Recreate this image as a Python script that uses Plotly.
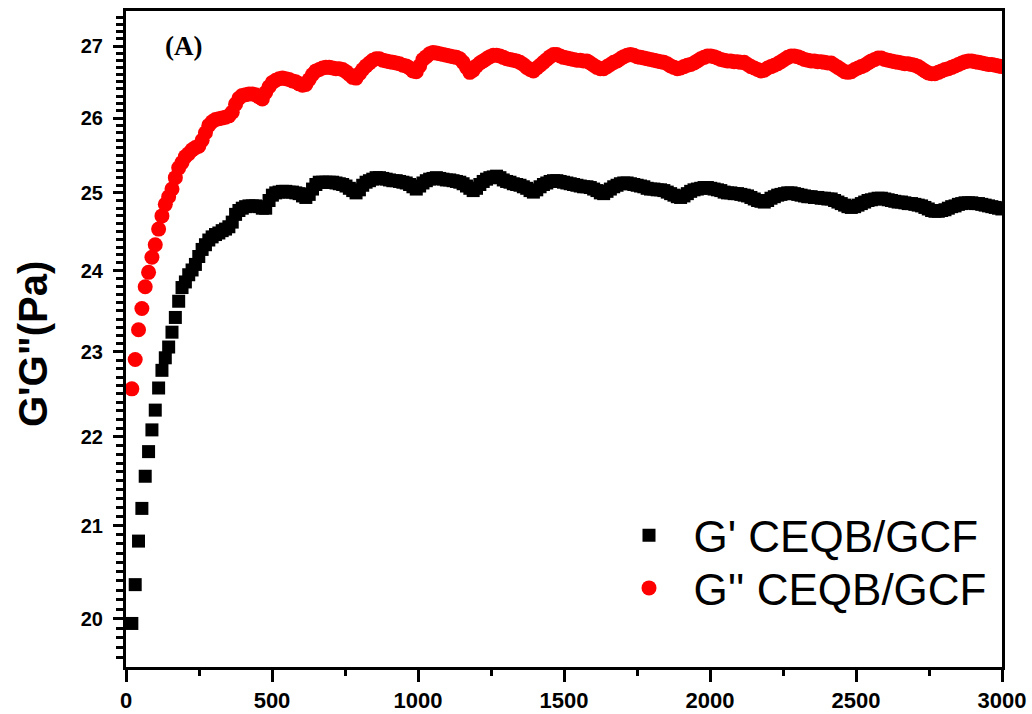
import plotly.graph_objects as go
import math

# ---------------- data ----------------
n_points = 261
time_step = 11.46
time_s = [round(20 + time_step * i, 1) for i in range(n_points)]

g_storage = [
    19.95, 20.36, 20.83, 21.19, 21.55, 21.83, 22.08, 22.31, 22.57, 22.78,
    22.93, 23.06, 23.24, 23.42, 23.62, 23.79, 23.86, 23.95, 24.01, 24.08,
    24.18, 24.27, 24.33, 24.39, 24.43, 24.46, 24.48, 24.51, 24.53, 24.56,
    24.62, 24.72, 24.77, 24.80, 24.82, 24.83, 24.83, 24.83, 24.82, 24.80,
    24.80, 24.90, 24.97, 25.00, 25.01, 25.02, 25.02, 25.01, 25.01, 25.00,
    24.99, 24.96, 24.94, 24.98, 25.05, 25.11, 25.14, 25.14, 25.14, 25.14,
    25.14, 25.13, 25.12, 25.11, 25.09, 25.06, 25.03, 25.00, 25.04, 25.10,
    25.14, 25.16, 25.18, 25.20, 25.20, 25.19, 25.18, 25.17, 25.16, 25.16,
    25.15, 25.14, 25.13, 25.11, 25.08, 25.05, 25.09, 25.13, 25.16, 25.18,
    25.19, 25.20, 25.19, 25.18, 25.17, 25.17, 25.16, 25.15, 25.14, 25.12,
    25.09, 25.06, 25.03, 25.06, 25.11, 25.15, 25.18, 25.20, 25.21, 25.22,
    25.20, 25.17, 25.15, 25.14, 25.12, 25.11, 25.10, 25.08, 25.06, 25.03,
    25.01, 25.04, 25.08, 25.11, 25.13, 25.15, 25.16, 25.16, 25.15, 25.14,
    25.13, 25.12, 25.11, 25.10, 25.09, 25.08, 25.08, 25.07, 25.05, 25.03,
    25.00, 24.99, 25.02, 25.05, 25.08, 25.10, 25.12, 25.13, 25.13, 25.12,
    25.11, 25.10, 25.09, 25.08, 25.06, 25.05, 25.05, 25.04, 25.04, 25.03,
    25.01, 24.99, 24.97, 24.95, 24.94, 24.96, 24.99, 25.02, 25.04, 25.05,
    25.06, 25.07, 25.07, 25.06, 25.05, 25.04, 25.03, 25.01, 25.00, 25.00,
    24.99, 24.99, 24.98, 24.97, 24.96, 24.94, 24.92, 24.90, 24.89, 24.88,
    24.90, 24.93, 24.95, 24.97, 24.98, 24.99, 25.00, 25.00, 24.99, 24.98,
    24.97, 24.96, 24.95, 24.95, 24.94, 24.94, 24.93, 24.93, 24.92, 24.92,
    24.90, 24.88, 24.86, 24.84, 24.82, 24.81, 24.82, 24.84, 24.86, 24.88,
    24.90, 24.91, 24.92, 24.93, 24.93, 24.92, 24.91, 24.90, 24.89, 24.88,
    24.88, 24.87, 24.86, 24.86, 24.85, 24.84, 24.83, 24.81, 24.79, 24.77,
    24.76, 24.76, 24.77, 24.78, 24.80, 24.82, 24.83, 24.85, 24.86, 24.87,
    24.87, 24.87, 24.86, 24.86, 24.85, 24.84, 24.83, 24.82, 24.81, 24.80,
    24.79,
]

g_loss = [
    22.56, 22.91, 23.27, 23.53, 23.80, 23.98, 24.17, 24.33, 24.53, 24.70,
    24.85, 24.95, 25.05, 25.20, 25.33, 25.40, 25.48, 25.52, 25.57, 25.60,
    25.62, 25.70, 25.80, 25.90, 25.95, 25.98, 25.99, 26.00, 26.01, 26.03,
    26.08, 26.19, 26.27, 26.31, 26.32, 26.33, 26.33, 26.32, 26.29, 26.26,
    26.35, 26.43, 26.49, 26.52, 26.54, 26.55, 26.54, 26.53, 26.51, 26.50,
    26.47, 26.45, 26.46, 26.53, 26.60, 26.65, 26.67, 26.69, 26.70, 26.70,
    26.69, 26.68, 26.68, 26.67, 26.64, 26.60, 26.56, 26.55, 26.61, 26.67,
    26.72, 26.76, 26.80, 26.82, 26.82, 26.80, 26.79, 26.78, 26.77, 26.76,
    26.75, 26.73, 26.72, 26.69, 26.65, 26.64, 26.72, 26.81, 26.85, 26.89,
    26.91, 26.90, 26.89, 26.88, 26.87, 26.86, 26.85, 26.84, 26.82, 26.77,
    26.70, 26.63, 26.66, 26.72, 26.76, 26.79, 26.82, 26.85, 26.87, 26.87,
    26.86, 26.84, 26.82, 26.81, 26.80, 26.79, 26.77, 26.74, 26.70, 26.67,
    26.65, 26.69, 26.73, 26.77, 26.81, 26.85, 26.88, 26.88, 26.86, 26.84,
    26.83, 26.82, 26.81, 26.80, 26.80, 26.79, 26.79, 26.76, 26.73, 26.70,
    26.68, 26.68, 26.71, 26.74, 26.77, 26.79, 26.82, 26.85, 26.87, 26.88,
    26.87, 26.85, 26.84, 26.83, 26.82, 26.81, 26.80, 26.79, 26.78, 26.77,
    26.75, 26.72, 26.70, 26.68, 26.69, 26.71, 26.73, 26.74, 26.76, 26.79,
    26.82, 26.84, 26.86, 26.86, 26.85, 26.83, 26.81, 26.80, 26.79, 26.79,
    26.78, 26.78, 26.77, 26.77, 26.74, 26.71, 26.69, 26.67, 26.65, 26.66,
    26.69, 26.71, 26.73, 26.75, 26.78, 26.81, 26.84, 26.86, 26.86, 26.85,
    26.83, 26.81, 26.80, 26.79, 26.79, 26.78, 26.78, 26.77, 26.76, 26.76,
    26.73, 26.70, 26.67, 26.64, 26.63, 26.64, 26.67, 26.69, 26.71, 26.73,
    26.76, 26.79, 26.81, 26.83, 26.83, 26.81, 26.80, 26.79, 26.78, 26.77,
    26.76, 26.75, 26.75, 26.74, 26.73, 26.71, 26.68, 26.65, 26.62, 26.61,
    26.61, 26.63, 26.65, 26.67, 26.68, 26.70, 26.72, 26.74, 26.76, 26.78,
    26.79, 26.79, 26.78, 26.77, 26.76, 26.75, 26.74, 26.74, 26.73, 26.72,
    26.71,
]

series_names = ["\u00a0\u00a0G' CEQB/GCF", "\u00a0\u00a0G'' CEQB/GCF"]
x_ticks = [0, 500, 1000, 1500, 2000, 2500, 3000]
x_minor_ticks = [250, 750, 1250, 1750, 2250, 2750]
y_ticks = [20, 21, 22, 23, 24, 25, 26, 27]
y_all_ticks = [round(v / 10, 1) for v in range(196, 275)]
y_label = "G'G\"(Pa)"
panel_label = "(A)"

# ---------------- figure ----------------
axis_font = "Arial, Liberation Sans, sans-serif"
y_range = [math.log10(19.5), math.log10(27.5)]

fig = go.Figure()
fig.add_trace(go.Scatter(
    x=time_s, y=g_storage, mode="markers", name=series_names[0],
    legend="legend",
    marker=dict(symbol="square", size=13, color="#000000", line=dict(width=0)),
))
fig.add_trace(go.Scatter(
    x=time_s, y=g_loss, mode="markers", name=series_names[1],
    legend="legend2",
    marker=dict(symbol="circle", size=15, color="#ff0000", line=dict(width=0)),
))
# same data on the overlaid major-tick axis, drawn fully transparent
fig.add_trace(go.Scatter(
    x=time_s, y=g_loss, yaxis="y2", mode="markers", showlegend=False,
    hoverinfo="skip", marker=dict(opacity=0, size=1),
))

legend_common = dict(
    xanchor="left", yanchor="middle",
    font=dict(family=axis_font, size=44, color="black"),
    bgcolor="rgba(0,0,0,0)", borderwidth=0,
)

fig.update_layout(
    width=1032, height=714,
    margin=dict(l=126, r=30, t=11, b=47),
    paper_bgcolor="white", plot_bgcolor="white",
    showlegend=True,
    legend=dict(x=(629 - 126) / 876, y=(667 - 535.7) / 656, **legend_common),
    legend2=dict(x=(629 - 126) / 876, y=(667 - 588.3) / 656, **legend_common),
    xaxis=dict(
        range=[0, 3000], tickvals=x_ticks, ticktext=[str(v) for v in x_ticks],
        showgrid=False, zeroline=False, automargin=False,
        showline=True, linecolor="black", linewidth=2.5, mirror=True,
        ticks="outside", ticklen=12, tickwidth=2.5, tickcolor="black",
        tickfont=dict(family=axis_font, size=22, color="black", weight="bold"),
        minor=dict(tickvals=x_minor_ticks, ticks="outside",
                   ticklen=6, tickwidth=2.5, tickcolor="black", showgrid=False),
    ),
    # minor ticks every 0.1, no labels
    yaxis=dict(
        type="log", range=y_range,
        tickmode="array", tickvals=y_all_ticks, showticklabels=False,
        showgrid=False, zeroline=False, automargin=False,
        showline=True, linecolor="black", linewidth=2.5, mirror=True,
        ticks="outside", ticklen=7, tickwidth=2.5, tickcolor="black",
    ),
    # major ticks with labels
    yaxis2=dict(
        type="log", range=y_range, overlaying="y", side="left", anchor="x",
        tickmode="array", tickvals=y_ticks, ticktext=[str(v) for v in y_ticks],
        showgrid=False, zeroline=False, showline=False, automargin=False,
        ticks="outside", ticklen=12, tickwidth=2.5, tickcolor="black",
        ticklabelstandoff=6,
        tickfont=dict(family=axis_font, size=20, color="black", weight="bold"),
    ),
    annotations=[
        dict(text=y_label, xref="paper", yref="paper",
             x=(33 - 126) / 876, y=(667 - 344) / 656,
             xanchor="center", yanchor="middle", textangle=-90, showarrow=False,
             font=dict(family=axis_font, size=40, color="black", weight="bold")),
        dict(text=panel_label, xref="paper", yref="paper",
             x=(183 - 126) / 876, y=(667 - 46) / 656,
             xanchor="center", yanchor="middle", showarrow=False,
             font=dict(family="Liberation Serif, Times New Roman, serif", size=27,
                       color="black", weight="bold")),
    ],
)

fig.write_html("out.html")
